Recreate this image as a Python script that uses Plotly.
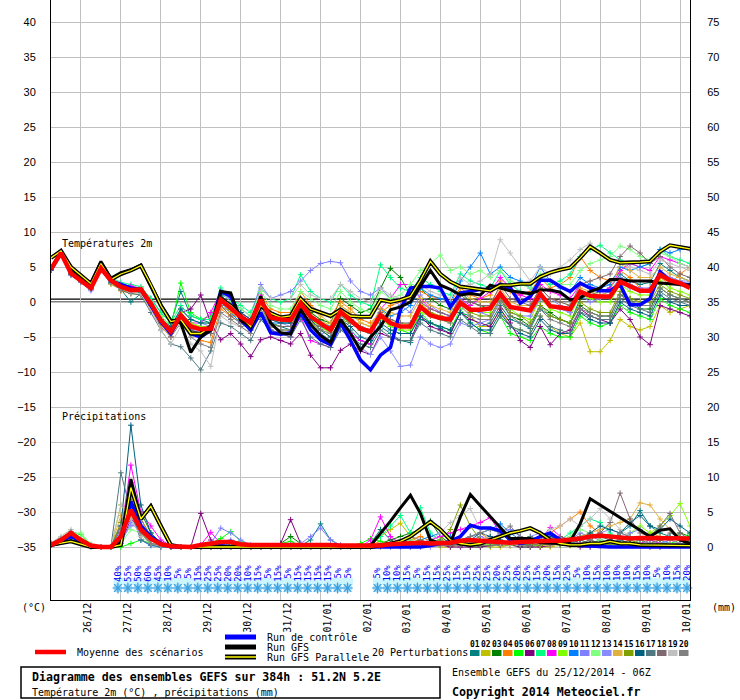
import plotly.graph_objects as go

# ---- time grid (GEFS run 25/12/2014 06Z, every 6h up to 384h)
HOURS = list(range(0, 385, 6))
DAY_HOURS = list(range(18, 379, 24))
DAY_LABELS = ["26/12", "27/12", "28/12", "29/12", "30/12", "31/12", "01/01", "02/01",
              "03/01", "04/01", "05/01", "06/01", "07/01", "08/01", "09/01", "10/01"]

# ---- temperature 2m (C)
T_MEAN = [4.7, 7.0, 4.1, 3.1, 2.0, 4.8, 3.1, 2.2, 1.7, 1.8,
          -0.2, -2.6, -4.2, -1.9, -3.5, -3.9, -3.8, 0.3, -0.9, -2.1,
          -3.0, 0.3, -2.2, -2.5, -2.6, -0.2, -2.1, -3.0, -4.0, -1.4,
          -2.5, -3.8, -4.2, -1.9, -3.0, -3.5, -3.5, -0.7, -1.9, -2.3,
          -2.5, -0.1, -1.1, -1.1, -0.9, 1.2, -0.7, -1.0, -1.2, 1.2,
          -0.6, -0.8, -1.0, 1.5, 0.9, 0.8, 0.8, 2.9, 2.2, 1.6,
          1.6, 3.9, 3.1, 2.7, 2.0]
T_GFS = [4.8, 7.2, 4.7, 3.6, 2.7, 5.8, 3.4, 4.2, 4.6, 5.3,
         2.4, -0.4, -2.6, -3.0, -7.2, -5.0, -4.0, 1.5, 1.3, -2.6,
         -3.5, 0.8, -3.0, -4.4, -4.6, -1.0, -3.2, -4.8, -5.8, -2.5,
         -4.5, -6.9, -5.0, -3.5, -1.1, -0.7, 0.0, 2.2, 4.5, 2.4,
         1.8, 1.0, 1.2, 1.0, 2.4, 2.0, 1.6, 1.4, 1.2, 1.7,
         1.7, 1.4, 0.3, 0.6, 1.5, 2.0, 3.2, 3.2, 3.0, 3.0,
         3.0, 2.7, 2.6, 2.6, 2.4]
T_PARA = [6.3, 7.3, 5.0, 3.8, 2.6, 5.5, 3.2, 4.0, 4.5, 5.2,
          2.5, -0.5, -2.8, -2.5, -4.5, -4.5, -3.5, 0.5, -0.5, -2.0,
          -3.5, -0.5, -1.6, -2.2, -2.0, 0.5, -1.0, -1.5, -2.0, -1.1,
          -2.0, -2.1, -2.1, 0.3, 0.0, 0.3, 0.8, 3.1, 5.8, 4.0,
          2.9, 2.2, 2.0, 1.8, 1.6, 2.4, 2.4, 2.6, 2.6, 3.6,
          4.2, 4.6, 4.9, 6.3, 7.9, 7.0, 6.0, 5.6, 5.6, 5.7,
          5.8, 7.2, 8.1, 7.8, 7.6]
T_CTRL = [4.6, 7.0, 4.5, 3.3, 2.2, 5.0, 3.0, 2.5, 2.0, 1.8,
          -0.5, -2.8, -4.5, -2.0, -4.5, -5.0, -4.0, 1.5, 0.8, -2.5,
          -4.0, -1.5, -4.4, -4.6, -4.4, -1.5, -4.0, -5.4, -6.1, -3.0,
          -5.5, -8.3, -9.7, -7.6, -6.5, -1.1, 2.0, 2.2, 2.2, 2.0,
          -0.7, 1.3, 1.5, 1.8, 1.8, 2.5, 2.0, -0.2, 0.8, 3.1,
          3.1, 2.2, 1.5, 2.7, 2.0, 1.6, 1.6, 2.5, -0.4, -0.4,
          0.5, 4.3, 3.0, 2.5, 2.5]

T01 = [4.6, 6.8, 4.0, 3.0, 1.8, 4.6, 2.6, 1.8, 0.0, 1.2,
       0.5, -1.5, -3.0, 1.5, -2.0, -2.5, -3.0, 1.0, -0.5, -1.5,
       -2.5, 1.5, -3.0, -3.5, -4.0, -1.5, -3.5, -4.5, -5.5, -2.8,
       -4.0, -5.5, -6.0, -3.5, -4.5, -5.5, -5.8, -2.5, -3.0, -3.8,
       -4.5, -1.5, -2.0, -3.5, -3.0, -0.5, -2.5, -3.0, -3.8, -1.0,
       -2.0, -2.5, -3.0, 0.5, 1.0, 1.5, 2.0, 4.0, 3.0, 2.5,
       2.8, 5.5, 4.5, 3.5, 3.0]
T02 = [4.8, 7.0, 4.2, 3.2, 2.2, 4.9, 3.2, 2.4, 2.0, 2.0,
       0.0, -2.5, -4.0, -1.5, -3.2, -3.5, -3.5, 0.8, -0.5, -1.8,
       -2.8, 0.5, -1.5, -2.0, -2.2, 0.5, -1.5, -2.5, -3.5, -0.5,
       -1.5, -3.0, -3.5, -1.0, -2.5, -3.0, -3.2, 0.0, -1.5, -2.0,
       -2.5, 0.5, -2.0, -3.5, -3.5, -1.0, -3.5, -4.0, -4.5, -2.0,
       -3.5, -4.5, -5.0, -3.0, -7.1, -7.1, -5.5, -2.5, -3.5, -4.0,
       -3.5, -0.5, -1.5, -1.0, -0.5]
T03 = [4.7, 7.0, 4.0, 3.0, 1.9, 4.7, 3.0, 2.0, 1.5, 1.5,
       -0.5, -3.0, -4.5, -2.5, -4.0, -4.5, -4.5, -0.5, -1.5, -2.5,
       -3.5, 0.5, -2.0, -2.0, -2.5, 0.0, -1.5, -2.5, -3.0, 0.5,
       -0.5, -1.5, -1.0, 2.0, 4.8, 3.5, 1.0, 2.0, 0.5, -0.5,
       -1.0, 1.5, 0.0, -0.5, -1.0, 0.5, -2.0, -2.5, -3.5, -0.5,
       -1.5, -2.5, -3.0, -0.5, -1.5, -2.0, -2.0, 1.0, 0.5, -1.0,
       -1.0, 2.0, 1.0, 0.5, 0.0]
T04 = [4.7, 7.0, 4.3, 3.3, 2.2, 4.8, 3.0, 1.6, 1.2, 1.5,
       -0.5, -2.8, -4.5, -2.5, -4.0, -5.5, -5.8, -1.0, -2.0, -3.0,
       -3.5, 1.0, -1.0, -1.5, -1.5, 1.5, -0.5, -1.5, -2.0, 0.0,
       -1.0, -2.5, -3.0, -1.5, -0.5, 0.0, 0.5, 1.5, 0.8, 0.5,
       0.0, 2.0, 1.0, 0.5, 1.0, 3.0, 1.5, 1.0, 1.5, 3.5,
       2.0, 2.5, 3.5, 6.5, 4.5, 3.5, 3.0, 4.5, 3.5, 2.0,
       1.5, 3.5, 2.5, 4.0, 5.0]
T05 = [4.9, 7.1, 4.3, 3.2, 2.1, 5.0, 3.2, 2.3, 1.8, 1.5,
       -0.5, -2.0, -3.5, 2.7, -1.5, -2.5, -2.0, 1.0, -0.5, -2.0,
       -3.0, 0.5, -3.0, -3.5, -3.5, -0.5, -2.5, -3.5, -4.5, -2.0,
       -3.0, -4.0, -4.5, -2.0, -3.5, -4.0, -4.5, -1.5, -3.0, -3.5,
       -4.0, -1.0, -3.0, -4.0, -4.5, -2.0, -4.5, -5.0, -5.5, -3.5,
       -4.5, -5.0, -5.0, -2.0, -3.0, -3.5, -3.0, -0.5, -1.5, -2.0,
       -2.5, 0.5, -0.5, -1.0, -1.5]
T06 = [4.6, 6.9, 4.0, 3.0, 2.0, 4.7, 3.0, 2.0, 1.5, 1.5,
       -1.0, -3.5, -5.0, -1.5, -1.0, 1.0, -3.0, -5.4, -4.5, -6.0,
       -7.8, -5.4, -5.0, -5.5, -6.0, -4.5, -7.6, -9.4, -9.4, -6.9,
       -6.0, -7.0, -7.5, -4.5, -5.0, -5.5, -5.5, -2.0, -3.5, -4.0,
       -4.5, -1.5, -2.5, -3.0, -3.5, -1.0, -3.0, -5.5, -6.5, -3.5,
       -6.1, -4.5, -4.0, -1.0, -2.0, -2.5, -3.0, -1.0, -2.5, -5.0,
       -6.1, -0.5, -1.0, -1.5, -2.0]
T07 = [4.8, 7.1, 4.2, 3.3, 2.3, 5.1, 3.5, 2.8, 2.5, 2.2,
       0.5, -1.5, -3.0, -0.5, -2.0, -2.5, -2.5, 2.0, 0.5, -0.5,
       -1.5, 2.0, 0.5, 0.0, 0.5, 3.9, 1.5, 0.5, 0.0, 2.5,
       1.0, 0.0, -0.5, 5.3, 3.5, 2.0, 1.5, 3.5, 2.5, 1.5,
       1.0, 4.0, 3.0, 2.5, 2.0, 4.5, 2.5, 1.5, 1.0, 3.5,
       2.5, 3.0, 4.0, 6.5, 7.5, 8.1, 7.0, 6.0, 5.5, 5.0,
       5.5, 7.5, 6.5, 6.0, 5.5]
T08 = [4.7, 7.0, 4.0, 3.0, 2.0, 4.9, 3.2, 2.5, 2.3, 2.0,
       0.0, -2.5, -4.0, -2.0, -3.0, -3.0, -1.5, 1.5, 0.0, -1.5,
       -2.5, 1.0, -4.0, -4.5, -5.0, -2.0, -5.5, -6.0, -6.5, -3.0,
       -4.5, -5.5, -6.0, -1.0, 0.5, 2.5, 2.5, 0.5, -1.0, -1.5,
       -2.0, 0.5, -0.5, 0.5, 1.5, 3.5, 2.0, 1.0, 0.5, 2.5,
       1.5, 1.0, 0.5, 2.5, 2.0, 1.5, 2.0, 4.5, 5.5, 5.0,
       4.5, 6.5, 6.0, 5.5, 5.0]
T09 = [4.8, 7.0, 4.1, 3.1, 2.1, 4.8, 3.1, 2.2, 1.8, 1.6,
       -0.3, -2.5, -4.0, -1.5, -3.0, -3.5, -3.5, 0.5, -1.0, -2.0,
       -3.0, 0.0, -2.5, -3.0, -3.0, -0.5, -2.5, -3.5, -4.5, -2.0,
       -3.0, -4.0, -4.5, -2.5, -3.5, -4.0, -4.0, -1.5, -2.0, -2.5,
       -3.0, 0.0, -1.0, -1.5, -1.5, 1.0, -1.0, -2.0, -2.5, 0.5,
       -1.0, -1.5, -2.0, 1.0, 0.5, 0.0, 0.0, 2.5, 1.5, 1.0,
       1.0, 3.0, 2.0, 1.5, 1.0]
T10 = [4.6, 6.9, 4.2, 3.2, 2.2, 4.7, 3.0, 2.0, 1.5, 1.8,
       -0.5, -3.0, -4.5, -2.0, -4.0, -4.5, -4.0, 0.0, -1.5, -3.0,
       -4.0, -0.5, -3.0, -3.0, -3.0, -0.5, -2.5, -3.0, -3.5, -1.0,
       -2.5, -3.5, -4.0, -1.0, -2.0, -1.5, -0.5, 2.0, 1.0, 0.5,
       0.0, 3.0, 5.0, 7.0, 4.0, 5.0, 3.5, 3.0, 2.0, 5.0,
       3.0, 2.0, 1.5, 3.5, 2.5, 2.0, 2.5, 5.0, 4.5, 5.0,
       5.5, 7.5, 7.0, 7.5, 7.5]
T11 = [4.7, 6.9, 3.8, 2.8, 1.6, 4.5, 2.8, 1.9, 1.5, 1.5,
       -0.5, -2.5, -4.0, -1.0, -2.5, -3.0, -3.5, 1.0, 0.5, -1.0,
       -2.0, 2.5, 0.5, 1.0, 1.5, 3.0, 4.5, 5.5, 5.8, 5.6,
       3.0, 1.5, 1.0, 2.0, 0.5, -0.5, -1.5, 1.0, -0.5, -1.5,
       -2.0, 0.5, -1.0, -1.5, -2.0, 0.5, -1.5, -2.0, -2.0, 0.5,
       -0.5, -1.0, -1.5, 1.5, 1.0, 1.0, 1.5, 3.5, 2.5, 2.0,
       2.0, 4.5, 3.5, 3.0, 2.5]
T12 = [4.8, 7.1, 4.3, 3.4, 2.5, 5.2, 3.3, 2.4, 1.9, 2.0,
       0.0, -2.0, -3.5, -1.0, -2.5, -3.0, -3.0, 1.5, 0.0, -1.0,
       -2.0, 1.5, -0.5, -1.0, -1.0, 1.5, 0.5, -0.5, -1.0, 1.5,
       0.0, -1.0, -1.5, 1.5, 0.5, 1.0, 2.5, 4.5, 5.5, 6.7,
       4.5, 5.0, 4.0, 4.5, 3.5, 4.5, 3.0, 2.5, 2.0, 4.0,
       3.0, 2.5, 2.5, 4.5, 5.5, 6.0, 6.5, 8.0, 7.5, 6.5,
       6.0, 7.0, 6.5, 5.5, 5.0]
T13 = [4.6, 6.8, 3.9, 2.9, 1.8, 4.6, 2.9, 2.0, 1.6, 1.6,
       -0.5, -3.0, -4.5, -2.5, -4.0, -4.0, -4.0, 0.0, -1.0, -2.0,
       -3.0, 0.0, -2.5, -3.0, -3.5, -1.0, -3.5, -4.5, -5.5, -3.0,
       -5.0, -6.5, -7.5, -5.0, -7.0, -9.2, -9.0, -5.0, -6.0, -6.5,
       -6.0, -3.0, -3.5, -3.0, -2.5, 0.5, -1.0, -0.5, -0.5, 2.0,
       0.5, -0.5, -1.5, 1.0, 0.0, 0.5, 1.0, 3.0, 2.0, 1.5,
       1.5, 4.0, 3.5, 3.0, 3.0]
T14 = [4.8, 7.0, 4.5, 3.5, 2.3, 4.6, 2.5, 1.8, 1.3, 1.0,
       -1.0, -3.5, -5.0, -2.5, -4.5, -4.5, -4.5, -0.5, -1.5, -2.5,
       -3.5, 0.0, -1.5, -2.0, -2.0, 0.5, -1.0, -2.0, -3.0, -0.5,
       -1.5, -3.0, -3.5, -1.0, -1.5, -2.0, -2.0, 0.5, -0.5, -1.0,
       -1.5, 1.5, 0.5, 0.0, 0.0, 2.0, 0.0, -0.5, -0.5, 2.0,
       0.5, 0.0, -0.5, 2.0, 1.5, 1.0, 1.5, 5.5, 4.5, 3.5,
       3.5, 5.0, 4.0, 3.5, 3.0]
T15 = [4.7, 7.0, 4.2, 3.1, 2.0, 4.8, 3.2, 2.2, 1.7, 1.7,
       -0.3, -2.8, -4.5, -2.0, -3.5, -4.0, -4.0, 0.0, -1.0, -2.5,
       -3.5, -0.5, -3.5, -4.0, -4.0, -1.5, -3.0, -4.0, -5.0, -2.5,
       -3.0, -4.0, -4.5, -2.0, -3.0, -3.5, -3.5, -0.5, -1.5, -2.0,
       -2.5, 0.0, -1.5, -2.0, -2.0, 0.5, -1.5, -2.0, -3.0, -0.5,
       -2.0, -2.5, -3.0, 0.0, -1.0, -1.5, -1.5, 1.5, 0.5, 0.0,
       0.0, 2.5, 1.5, 1.0, 0.5]
T16 = [4.6, 6.9, 4.0, 3.0, 2.0, 4.6, 2.9, 2.0, 1.5, 1.4,
       -0.5, -2.5, -3.5, -1.0, -2.5, -3.0, -3.0, 1.0, -0.5, -1.5,
       -2.5, 0.5, -2.5, -3.0, -3.0, -0.5, -2.5, -4.0, -5.0, -2.5,
       -3.5, -5.0, -5.5, -3.0, -4.0, -4.5, -4.5, -2.0, -3.0, -3.5,
       -4.0, -1.5, -3.0, -4.0, -4.0, -1.5, -3.5, -4.5, -5.0, -2.5,
       -4.0, -4.5, -4.5, -1.5, -2.5, -3.0, -3.0, 0.0, -1.0, -1.5,
       -2.0, 1.0, 0.0, -0.5, -0.5]
T17 = [4.6, 6.9, 3.9, 2.9, 1.9, 4.5, 2.8, 1.7, 1.2, 1.0,
       -1.5, -4.0, -6.0, -6.4, -8.0, -9.7, -7.0, -3.0, -3.5, -4.5,
       -5.5, -2.5, -4.0, -4.5, -5.0, -2.5, -5.0, -6.0, -6.5, -4.0,
       -5.0, -6.0, -6.5, -4.0, -5.0, -5.5, -5.5, -3.0, -4.0, -4.5,
       -5.0, -2.5, -3.5, -4.5, -4.5, -2.0, -3.5, -4.0, -4.5, -2.0,
       -3.5, -4.0, -4.5, -1.5, -2.0, -2.5, -2.5, 0.5, -0.5, -1.0,
       -1.5, 1.5, 0.5, 0.0, -0.5]
T18 = [4.7, 7.0, 4.1, 3.1, 2.1, 4.9, 3.1, 2.1, 1.6, 1.5,
       -0.5, -3.0, -4.5, -2.0, -4.0, -4.5, -4.5, -0.5, -2.0, -3.0,
       -4.0, -0.5, -3.0, -3.5, -3.5, -1.0, -3.0, -3.5, -4.0, -1.5,
       -2.5, -3.5, -4.0, -1.5, -2.5, -3.0, -3.0, 0.0, -1.0, -1.5,
       -2.0, 1.0, 0.0, -0.5, -0.5, 2.5, 0.5, 0.0, -0.5, 2.0,
       0.5, 0.0, -0.5, 2.5, 3.0, 3.5, 4.0, 6.5, 8.0, 7.0,
       5.5, 6.5, 5.0, 4.0, 3.5]
T19 = [4.9, 7.2, 4.5, 3.4, 2.3, 5.0, 3.0, 2.0, 1.4, 1.2,
       -1.0, -4.0, -6.0, -3.5, -6.0, -7.0, -9.2, -2.0, -3.0, -3.5,
       -4.5, 2.0, 0.5, 0.5, 0.5, 2.5, 1.0, 0.5, 0.5, 2.5,
       1.5, 0.5, 0.0, 2.0, 1.0, 0.5, 0.5, 2.5, 1.5, 1.0,
       0.5, 3.5, 2.5, 3.0, 4.0, 8.9, 7.0, 5.0, 3.0, 5.0,
       4.0, 5.0, 6.0, 7.5, 8.4, 7.0, 6.0, 5.5, 5.0, 4.5,
       4.0, 6.0, 5.5, 5.0, 4.5]
T20 = [4.7, 7.0, 4.0, 3.0, 1.9, 4.7, 3.0, 2.1, 1.6, 1.6,
       -0.5, -3.0, -5.0, -3.0, -5.0, -6.0, -6.5, -1.5, -2.5, -3.5,
       -4.5, -1.0, -3.5, -4.0, -4.0, -1.5, -3.5, -4.0, -4.5, -2.0,
       -3.0, -4.0, -4.5, -2.0, -3.0, -3.5, -3.5, -1.0, -2.0, -2.5,
       -3.0, -0.5, -2.0, -2.5, -2.5, 0.0, -2.0, -3.0, -3.5, -1.0,
       -2.5, -3.0, -3.5, -1.0, -1.5, -2.0, -2.0, 1.0, 0.0, -0.5,
       -0.5, 2.0, 1.0, 0.5, 0.0]

# ---- precipitation (mm / 6h)
P_MEAN = [0.3, 1.0, 2.0, 1.0, 0.2, 0.0, 0.0, 1.5, 5.3, 2.5,
          1.2, 0.4, 0.1, 0.0, 0.0, 0.3, 0.5, 0.7, 0.7, 0.4,
          0.3, 0.3, 0.3, 0.3, 0.4, 0.4, 0.4, 0.3, 0.3, 0.2,
          0.2, 0.1, 0.1, 0.2, 0.4, 0.5, 0.6, 0.6, 0.5, 0.5,
          0.6, 0.9, 1.0, 0.9, 0.8, 0.7, 0.6, 0.7, 0.8, 0.8,
          0.9, 0.9, 1.0, 1.2, 1.5, 1.6, 1.5, 1.3, 1.2, 1.3,
          1.3, 1.2, 1.3, 1.2, 1.2]
P_GFS = [0.2, 0.5, 0.9, 0.5, 0.0, 0.0, 0.0, 0.5, 9.7, 4.0,
         5.9, 3.0, 0.2, 0, 0, 0, 0, 0, 0, 0,
         0, 0, 0, 0, 0, 0, 0, 0, 0, 0,
         0.0, 0.0, 0.2, 1.9, 3.7, 5.6, 7.4, 4.8, 1.0, 0.5,
         0.5, 4.3, 7.5, 5.9, 4.3, 2.8, 1.2, 1.2, 1.2, 0.6,
         0.5, 0.5, 0.8, 3.3, 6.9, 6.0, 5.1, 4.2, 3.3, 2.4,
         1.5, 2.4, 2.6, 1.0, 0.5]
P_PARA = [0.3, 0.6, 0.8, 0.4, 0.0, 0.0, 0.0, 0.3, 8.5, 4.0,
          5.8, 3.0, 0.3, 0, 0, 0, 0, 0, 0, 0,
          0, 0, 0, 0, 0, 0, 0, 0, 0, 0,
          0, 0, 0, 0.2, 0.5, 0.8, 1.5, 2.5, 3.6, 2.5,
          1.0, 0.5, 0.3, 0.5, 1.0, 1.5, 2.0, 2.3, 2.7, 2.0,
          1.0, 0.5, 0.3, 0.3, 0.5, 0.5, 0.8, 0.5, 0.5, 0.3,
          0.3, 0.2, 0.2, 0.2, 0.2]
P_CTRL = [0.3, 0.8, 1.5, 0.8, 0.1, 0, 0, 1.0, 6.5, 3.0,
          1.5, 0.5, 0.0, 0, 0, 0, 0, 0.5, 0.8, 0.3,
          0, 0, 0, 0, 0, 0, 0, 0, 0, 0,
          0, 0, 0, 0, 0, 0, 0, 0, 0.2, 0.5,
          0.8, 1.5, 3.1, 2.7, 2.7, 2.3, 1.0, 0.5, 0.8, 1.5,
          2.0, 1.0, 0.3, 0.2, 0.1, 0, 0, 0, 0, 0,
          0, 0, 0, 0, 0]

P01 = [0.4, 1.0, 1.8, 0.8, 0.1, 0, 0, 2.0, 7.0, 4.0, 1.5, 0.5, 0.1,
       0, 0, 0, 0, 0.3, 0.5, 0.2, 0, 0, 0, 0, 0.5, 0.2,
       1.0, 3.3, 1.0, 0.2, 0, 0, 0.5, 2.5, 1.0, 0.3, 0, 0.5, 1.0,
       0.5, 0.3, 0.5, 1.0, 0.5, 0.3, 0.5, 1.0, 1.5, 0.8, 0.5, 0.3, 0.5,
       1.0, 1.5, 2.0, 1.5, 1.0, 2.0, 3.0, 5.2, 3.0, 2.0, 1.5, 1.0, 0.8]
P02 = [0.5, 1.2, 1.6, 0.6, 0.1, 0, 0, 6.0, 5.0, 2.5, 1.0, 0.3, 0,
       0, 0, 0, 0, 0, 0.2, 0, 0, 0, 0, 0, 0, 0,
       0, 0, 0, 0, 0, 0, 0.2, 1.5, 2.5, 3.4, 1.5, 0.5, 0.2,
       0, 0, 0.2, 0.5, 0.3, 0, 0, 0.2, 0.5, 0.3, 0, 0, 0.2,
       0.5, 0.3, 0.2, 0.5, 1.0, 0.5, 0.3, 0.5, 1.0, 0.5, 0.3, 0.2, 0.2]
P03 = [0.4, 0.9, 1.5, 0.7, 0.1, 0, 0, 1.0, 6.0, 5.0, 2.0, 0.5, 0,
       0, 0, 0, 0, 0.3, 0.8, 0.3, 0, 0, 0, 0.5, 1.5, 0.5,
       0, 0, 0, 0, 0, 0, 0, 0.5, 1.0, 1.5, 2.0, 2.5, 3.7,
       1.5, 0.5, 0.3, 0.5, 1.0, 0.5, 0.3, 0.5, 0.8, 1.0, 0.5, 0.3, 0.5,
       1.0, 1.5, 1.0, 0.5, 0.5, 1.0, 1.5, 1.0, 0.5, 0.5, 1.0, 2.0, 1.5]
P04 = [0.4, 1.1, 1.9, 0.9, 0.2, 0, 0, 1.5, 9.2, 4.0, 1.5, 0.5, 0.1,
       0, 0, 0, 0, 0.2, 0.3, 0.1, 0, 0, 0, 0, 0, 0,
       0, 0, 0, 0, 0, 0, 0.3, 0.8, 0.5, 0.3, 1.0, 1.5, 0.8,
       0.5, 0.5, 1.0, 1.5, 2.0, 1.0, 0.5, 0.3, 0.5, 1.0, 1.5, 2.0, 3.0,
       4.0, 5.0, 3.0, 2.0, 1.5, 1.0, 0.5, 1.0, 2.0, 1.5, 1.0, 0.5, 0.5]
P05 = [0.5, 1.3, 2.2, 1.8, 0.3, 0, 0, 0.0, 0.5, 1.0, 0.5, 0.2, 0,
       0, 0, 0, 0.5, 1.2, 2.2, 0.8, 0.2, 0, 0, 0.5, 0.8, 0.2,
       0, 0, 0, 0, 0, 0.5, 1.2, 0.8, 0.3, 0, 0, 0.2, 0.5,
       1.0, 0.5, 0.3, 0, 0, 0.2, 0.5, 0.3, 0, 0, 0.3, 0.8, 1.0,
       0.5, 0.3, 0.5, 1.0, 0.5, 0.3, 0.5, 1.0, 1.5, 1.0, 0.5, 1.0, 2.0]
P06 = [0.3, 0.8, 1.5, 0.7, 0.1, 0, 0, 0.5, 4.0, 2.5, 1.5, 0.5, 0,
       0, 0, 4.8, 1.0, 0.2, 0, 0, 0, 0, 0, 0.5, 3.9, 0.5,
       0, 0, 0, 0, 0, 0, 0, 0, 0, 0, 0, 0.3, 0.5,
       0.3, 0, 0, 0, 0, 0.2, 0.5, 0.3, 0, 0, 0, 0.2, 0.5,
       0.3, 0, 0, 0.2, 0.5, 1.0, 0.5, 0.3, 0, 0, 0.2, 0.5, 0.3]
P07 = [0.4, 1.0, 1.7, 0.8, 0.1, 0, 0, 1.0, 5.0, 3.0, 1.0, 0.3, 0,
       0, 0, 0, 0, 0, 0.5, 0.3, 0, 0, 0, 0, 0, 0,
       0, 0, 0, 0, 0, 0, 0.3, 1.5, 3.0, 4.5, 2.0, 5.6, 2.0,
       0.8, 0.5, 0.3, 0.5, 1.0, 0.5, 0.3, 0.5, 1.0, 0.5, 0.3, 0.5, 1.0,
       2.0, 3.0, 4.0, 3.5, 2.0, 1.0, 0.5, 0.5, 1.0, 0.5, 0.3, 0.5, 0.5]
P08 = [0.4, 1.0, 1.8, 0.8, 0.1, 0, 0, 2.0, 11.7, 5.0, 3.0, 1.0, 0.2,
       0, 0, 0.3, 2.1, 0.5, 0.2, 0, 0, 0, 0, 0, 0, 0,
       0, 0, 0, 0, 0, 0, 1.0, 4.3, 1.5, 0.5, 0.3, 0.5, 1.0,
       1.5, 2.0, 2.5, 3.0, 3.5, 4.2, 2.0, 1.0, 0.5, 0.5, 1.0, 2.8, 1.5,
       1.0, 0.5, 0.3, 0.5, 1.0, 0.5, 0.3, 0.5, 1.0, 0.5, 0.3, 0.2, 0.2]
P09 = [0.4, 1.0, 1.7, 0.9, 0.2, 0, 0, 1.5, 4.5, 2.0, 0.5, 0.2, 0,
       0, 0, 0, 0, 0, 0, 0, 0, 0, 0, 0, 0, 0,
       0, 0, 0, 0, 0, 0, 0, 0.2, 0.5, 1.0, 0.5, 0.3, 0.5,
       0.5, 0.3, 0.5, 1.0, 0.5, 0.3, 0.5, 0.8, 0.5, 0.3, 0.5, 0.5, 0.3,
       0.5, 1.0, 0.5, 0.3, 0.5, 1.0, 2.0, 3.0, 2.0, 3.0, 4.5, 6.2, 3.0]
P10 = [0.4, 0.9, 1.6, 0.8, 0.1, 0, 0, 3.0, 5.5, 1.0, 0.2, 0, 0,
       0, 0, 0, 0, 0.2, 0.5, 0.2, 0, 0, 0, 0, 0, 0,
       0, 0, 0, 0, 0, 0, 0, 0.2, 0.5, 0.3, 0.5, 1.0, 1.5,
       2.0, 1.5, 1.0, 1.5, 2.0, 2.5, 3.3, 2.0, 1.0, 0.5, 0.3, 0.5, 1.0,
       0.5, 0.3, 0.2, 0.5, 0.3, 0.2, 0.5, 1.0, 0.5, 0.3, 0.2, 0.3, 0.5]
P11 = [0.4, 1.0, 1.6, 0.7, 0.1, 0, 0, 1.0, 3.0, 3.5, 1.5, 0.5, 0.1,
       0, 0, 0, 0.5, 2.7, 2.0, 1.0, 0.3, 0, 0, 0, 0.3, 0.5,
       1.5, 2.7, 1.0, 0.3, 0, 0, 0, 0, 0, 0, 0, 0, 0.3,
       0.5, 0.3, 0.5, 1.0, 1.5, 1.0, 2.0, 2.5, 1.5, 1.0, 0.5, 0.3, 0.5,
       1.0, 2.0, 1.5, 1.0, 0.5, 1.0, 2.0, 2.5, 1.5, 1.0, 0.5, 0.3, 0.3]
P12 = [0.5, 1.2, 1.8, 2.0, 0.4, 0, 0, 0.5, 2.5, 2.0, 1.0, 0.3, 0,
       0, 0, 0, 0, 0, 0, 0, 0, 0, 0, 0, 0, 0,
       0, 0, 0, 0, 0, 0, 0, 0, 0.3, 0.5, 1.0, 0.5, 0.3,
       0.2, 0.5, 1.0, 0.5, 0.3, 0.2, 0.3, 0.5, 0.3, 0.2, 0.3, 0.5, 1.0,
       1.5, 2.5, 2.0, 1.0, 0.5, 0.3, 0.5, 1.0, 0.5, 0.3, 0.5, 0.3, 0.2]
P13 = [0.4, 1.0, 1.6, 0.7, 0.1, 0, 0, 0.5, 3.5, 2.0, 0.5, 0.2, 0,
       0, 0, 0, 0, 0.5, 1.0, 0.5, 0, 0, 0, 0, 0, 0,
       0, 0, 0, 0, 0, 0, 0, 0, 0, 0, 0, 0, 0,
       0.2, 0.5, 0.3, 0.5, 1.0, 1.5, 1.0, 0.5, 1.0, 1.5, 2.0, 1.5, 1.0,
       0.5, 1.0, 1.5, 2.0, 2.5, 2.0, 1.5, 1.0, 0.5, 0.5, 1.0, 0.5, 0.3]
P14 = [0.4, 1.0, 1.7, 0.8, 0.1, 0, 0, 4.5, 7.5, 2.5, 0.5, 0.2, 0,
       0, 0, 0, 0, 0, 0, 0, 0, 0, 0, 0, 0, 0,
       0, 0, 0, 0, 0, 0, 0, 0, 0.3, 0.5, 0.3, 0.2, 0.5,
       1.0, 0.5, 0.3, 0.5, 1.0, 1.5, 1.0, 0.5, 0.3, 0.5, 0.3, 0.2, 0.5,
       1.0, 1.5, 2.0, 2.5, 3.0, 3.5, 4.0, 6.3, 6.0, 4.0, 2.5, 1.5, 1.0]
P15 = [0.4, 1.0, 1.8, 0.8, 0.1, 0, 0, 3.5, 6.5, 2.0, 0.5, 0.2, 0,
       0, 0, 0, 0, 0, 0, 0, 0, 0, 0, 0, 0, 0,
       0, 0, 0, 0, 0, 0, 0, 0.2, 0.5, 1.0, 0.5, 1.0, 0.5,
       1.0, 2.5, 6.0, 3.0, 1.0, 0.5, 0.3, 0.2, 0.5, 0.3, 0.2, 0.5, 0.3,
       0.2, 0.5, 1.0, 0.5, 0.3, 0.5, 1.0, 0.5, 0.3, 0.5, 0.5, 0.3, 0.2]
P16 = [0.3, 0.8, 1.5, 0.7, 0.1, 0, 0, 3.0, 17.4, 6.0, 2.0, 0.5, 0.1,
       0, 0, 0, 0, 0, 0.3, 0.2, 0, 0, 0, 0, 0, 0,
       0, 0, 0, 0, 0, 0, 0, 0.3, 0.5, 0.3, 0.2, 0.5, 1.0,
       0.5, 0.3, 0.5, 1.0, 2.0, 1.5, 1.0, 0.5, 0.3, 0.5, 1.0, 1.5, 1.0,
       0.5, 1.0, 2.0, 3.0, 2.5, 2.0, 3.5, 4.5, 3.0, 2.5, 4.0, 3.0, 2.0]
P17 = [0.4, 1.0, 1.9, 0.9, 0.2, 0, 0, 10.6, 5.0, 1.0, 0.3, 0, 0,
       0, 0, 0, 0, 0, 0, 0, 0, 0, 0, 0, 0, 0,
       0, 0, 0, 0, 0, 0, 0, 0.3, 0.5, 1.0, 0.5, 0.3, 0.5,
       0.8, 0.5, 0.3, 0.5, 1.0, 0.5, 0.3, 0.5, 1.0, 1.5, 1.0, 0.5, 0.3,
       0.5, 1.0, 0.5, 0.3, 0.5, 1.0, 0.5, 0.3, 0.5, 1.0, 1.5, 1.0, 0.5]
P18 = [0.4, 1.0, 1.8, 0.8, 0.1, 0, 0, 2.5, 8.5, 3.0, 1.0, 0.3, 0,
       0, 0, 0, 0, 0, 0, 0, 0, 0, 0, 0, 0, 0,
       0, 0, 0, 0, 0, 0, 0, 0.2, 0.5, 0.3, 0.2, 0.3, 0.5,
       0.3, 0.2, 0.3, 0.5, 0.3, 0.2, 0.3, 0.5, 0.3, 0.2, 0.5, 1.0, 1.5,
       1.0, 0.5, 1.0, 2.0, 3.5, 7.7, 4.0, 2.0, 1.5, 3.0, 4.8, 2.0, 1.0]
P19 = [0.6, 1.5, 2.5, 1.2, 0.3, 0, 0, 6.0, 4.0, 1.5, 0.5, 0.2, 0,
       0, 0, 0, 0, 0, 0, 0, 0, 0, 0, 0, 0, 0,
       0, 0, 0, 0, 0, 0, 0, 0.3, 0.5, 0.5, 0.3, 0.5, 1.0,
       2.0, 3.5, 4.5, 5.5, 2.5, 1.0, 0.5, 0.3, 0.5, 1.0, 1.5, 2.5, 3.0,
       4.0, 3.0, 4.0, 5.5, 4.0, 2.5, 1.5, 1.0, 0.5, 0.3, 0.5, 0.3, 0.2]
P20 = [0.5, 1.2, 2.2, 1.0, 0.2, 0, 0, 3.0, 6.0, 2.0, 0.5, 0.2, 0,
       0, 0, 0, 0, 0, 0, 0, 0, 0, 0, 0, 0, 0,
       0, 0, 0, 0, 0, 0, 0, 0.2, 0.5, 1.0, 1.5, 1.0, 0.5,
       0.3, 0.5, 1.0, 1.5, 2.0, 2.5, 2.0, 3.0, 1.5, 1.0, 0.5, 0.3, 0.5,
       1.0, 1.5, 1.0, 0.5, 1.0, 2.0, 1.5, 1.0, 0.5, 1.0, 2.0, 1.5, 1.0]

PERT_T = [T01, T02, T03, T04, T05, T06, T07, T08, T09, T10,
          T11, T12, T13, T14, T15, T16, T17, T18, T19, T20]
PERT_P = [P01, P02, P03, P04, P05, P06, P07, P08, P09, P10,
          P11, P12, P13, P14, P15, P16, P17, P18, P19, P20]
PERT_COLORS = ["#008080", "#c0c000", "#008000", "#ff8000", "#00ff00",
               "#800080", "#00ff80", "#ff00ff", "#80ff00", "#0080ff",
               "#8080ff", "#80ff80", "#8a8aff", "#e0b040", "#80a000",
               "#006080", "#507880", "#806870", "#c0c0c0", "#808080"]

# ---- snow probability (%)
SNOW_HOURS_A = list(range(42, 181, 6))
SNOW_PCT_A = [40, 55, 50, 60, 45, 10, 5, 5, 15, 25, 25, 20,
              20, 10, 15, 5, 15, 5, 15, 15, 15, 15, 5, 5]
SNOW_HOURS_B = list(range(198, 385, 6))
SNOW_PCT_B = [5, 10, 10, 15, 5, 15, 15, 25, 15, 15, 25, 25, 20, 25, 20, 25,
              15, 20, 15, 25, 5, 10, 15, 10, 10, 10, 15, 10, 5, 10, 15, 20]

for s in [T_MEAN, T_GFS, T_PARA, T_CTRL, P_MEAN, P_GFS, P_PARA, P_CTRL] + PERT_T + PERT_P:
    assert len(s) == len(HOURS), len(s)

# ---- geometry (pixels of the 740x700 picture)
W, H = 740, 700
ML, MR, MT, MB = 51, 50, 0, 100
PW, PH = W - ML - MR, H - MT - MB
Y0_PX = 302          # pixel row of 0 C
PX_PER_DEG = 7
T_LO = -(PH - Y0_PX) / PX_PER_DEG
T_HI = Y0_PX / PX_PER_DEG
MONO = "DejaVu Sans Mono"


def xp(px):
    return (px - ML) / PW


def yp(py):
    return (MT + PH - py) / PH


def ydata(py):
    return (Y0_PX - py) / PX_PER_DEG


fig = go.Figure()

# perturbations
for c, t, p in zip(PERT_COLORS, PERT_T, PERT_P):
    mk = dict(symbol="cross-thin", size=4, color=c, line=dict(color=c, width=1))
    fig.add_trace(go.Scatter(x=HOURS, y=t, mode="lines+markers", line=dict(color=c, width=1),
                             marker=mk, yaxis="y", hoverinfo="skip"))
    fig.add_trace(go.Scatter(x=HOURS, y=p, mode="lines+markers", line=dict(color=c, width=1),
                             marker=mk, yaxis="y2", hoverinfo="skip"))

# control, GFS, parallel, mean
for t, p, col, w in [(T_CTRL, P_CTRL, "#0000ff", 3.5), (T_GFS, P_GFS, "#000000", 3)]:
    for vals, ax in [(t, "y"), (p, "y2")]:
        fig.add_trace(go.Scatter(x=HOURS, y=vals, mode="lines", line=dict(color=col, width=w),
                                 yaxis=ax, hoverinfo="skip"))
for vals, ax in [(T_PARA, "y"), (P_PARA, "y2")]:
    fig.add_trace(go.Scatter(x=HOURS, y=vals, mode="lines", line=dict(color="black", width=4),
                             yaxis=ax, hoverinfo="skip"))
    fig.add_trace(go.Scatter(x=HOURS, y=vals, mode="lines", line=dict(color="#ffff00", width=1.3),
                             yaxis=ax, hoverinfo="skip"))
for vals, ax in [(T_MEAN, "y"), (P_MEAN, "y2")]:
    fig.add_trace(go.Scatter(x=HOURS, y=vals, mode="lines", line=dict(color="#ff0000", width=4.5),
                             yaxis=ax, hoverinfo="skip"))

# snow row: flakes
snow_y = ydata(588)
for hrs in (SNOW_HOURS_A, SNOW_HOURS_B):
    xs = [h - 1.8 for h in hrs]
    fig.add_trace(go.Scatter(x=xs, y=[snow_y] * len(xs), mode="markers", yaxis="y", cliponaxis=False,
                             marker=dict(symbol="circle", size=9, color="#a8dcf5", line=dict(width=0)),
                             hoverinfo="skip"))
    fig.add_trace(go.Scatter(x=xs, y=[snow_y] * len(xs), mode="markers", yaxis="y", cliponaxis=False,
                             marker=dict(symbol="asterisk-open", size=9, color="#3aa0e0",
                                         line=dict(color="#3aa0e0", width=1.2)),
                             hoverinfo="skip"))

shapes = []
# double zero line
for yy in (0.0, 0.4):
    shapes.append(dict(type="line", xref="paper", yref="y", x0=0, x1=1, y0=yy, y1=yy,
                       line=dict(color="black", width=1.2), layer="between"))
# cyan strip under the snow percentages
for h0, h1 in [(SNOW_HOURS_A[0] - 4.5, SNOW_HOURS_A[-1] + 1.5), (SNOW_HOURS_B[0] - 4.5, SNOW_HOURS_B[-1] + 3)]:
    shapes.append(dict(type="rect", xref="x", yref="y", x0=h0, x1=h1, y0=ydata(585), y1=ydata(578),
                       fillcolor="#ccf6ff", line=dict(width=0), layer="between"))

annotations = []
for hrs, pcts in [(SNOW_HOURS_A, SNOW_PCT_A), (SNOW_HOURS_B, SNOW_PCT_B)]:
    for h, v in zip(hrs, pcts):
        annotations.append(dict(x=h, y=yp(573), xref="x", yref="paper", xshift=-3, text=f"{v}%",
                                textangle=-90, showarrow=False, xanchor="center", yanchor="middle",
                                font=dict(family=MONO, size=9, color="#0000ff")))

# day labels under the axis, rotated
for h, lab in zip(DAY_HOURS, DAY_LABELS):
    annotations.append(dict(x=h, y=yp(601), xref="x", yref="paper", xshift=6, text=lab,
                            textangle=-90, showarrow=False, xanchor="center", yanchor="top",
                            font=dict(family=MONO, size=10, color="black")))

annotations += [
    dict(x=xp(60), y=yp(243), text="Températures 2m"),
    dict(x=xp(60), y=yp(416), text="Précipitations"),
    dict(x=xp(20), y=yp(607), text="(°C)"),
    dict(x=xp(710), y=yp(607), text="(mm)"),
]

# legend
LEG = [("#0000ff", 637, "Run de contrôle"), ("#000000", 647, "Run GFS")]
shapes.append(dict(type="line", xref="paper", yref="paper", x0=xp(35), x1=xp(66), y0=yp(652), y1=yp(652),
                   line=dict(color="#ff0000", width=4.5)))
annotations.append(dict(x=xp(75), y=yp(652), text="Moyenne des scénarios"))
for col, yy, label in LEG:
    shapes.append(dict(type="line", xref="paper", yref="paper", x0=xp(225), x1=xp(256), y0=yp(yy), y1=yp(yy),
                       line=dict(color=col, width=5)))
    annotations.append(dict(x=xp(265), y=yp(yy), text=label))
shapes.append(dict(type="line", xref="paper", yref="paper", x0=xp(225), x1=xp(256), y0=yp(657), y1=yp(657),
                   line=dict(color="black", width=5)))
shapes.append(dict(type="line", xref="paper", yref="paper", x0=xp(225), x1=xp(256), y0=yp(657), y1=yp(657),
                   line=dict(color="#ffff00", width=1.5)))
annotations.append(dict(x=xp(265), y=yp(657), text="Run GFS Parallele"))
annotations.append(dict(x=xp(370), y=yp(652), text="20 Perturbations"))
for k, col in enumerate(PERT_COLORS):
    x0 = 470 + 11 * k
    shapes.append(dict(type="rect", xref="paper", yref="paper", x0=xp(x0), x1=xp(x0 + 9.5),
                       y0=yp(656), y1=yp(650), fillcolor=col, line=dict(width=0)))
    annotations.append(dict(x=xp(x0 + 4.75), y=yp(644), text=f"{k + 1:02d}", xanchor="center",
                            font=dict(family=MONO, size=8, color="black", weight="bold")))

# title box
shapes.append(dict(type="rect", xref="paper", yref="paper", x0=xp(21), x1=xp(440), y0=yp(698), y1=yp(667),
                   line=dict(color="black", width=1.5), fillcolor="white"))
annotations += [
    dict(x=xp(30), y=yp(677), text="Diagramme des ensembles GEFS sur 384h : 51.2N 5.2E",
         font=dict(family=MONO, size=11.6, color="black", weight="bold")),
    dict(x=xp(30), y=yp(692), text="Température 2m (°C) , précipitations (mm)"),
    dict(x=xp(450), y=yp(672), text="Ensemble GEFS du 25/12/2014 - 06Z"),
    dict(x=xp(450), y=yp(692), text="Copyright 2014 Meteociel.fr",
         font=dict(family=MONO, size=11.6, color="black", weight="bold")),
]

for a in annotations:
    a.setdefault("xref", "paper")
    a.setdefault("yref", "paper")
    a.setdefault("showarrow", False)
    a.setdefault("xanchor", "left")
    a.setdefault("yanchor", "middle")
    a.setdefault("font", dict(family=MONO, size=10, color="black"))

tickfont = dict(family="Liberation Sans", size=11, color="black")
fig.update_layout(
    width=W, height=H, margin=dict(l=ML, r=MR, t=MT, b=MB),
    paper_bgcolor="white", plot_bgcolor="white", showlegend=False,
    xaxis=dict(range=[0, 384], tickvals=DAY_HOURS, showticklabels=False,
               showgrid=True, gridcolor="#c0c0c0", gridwidth=1, zeroline=False,
               showline=True, linecolor="black", linewidth=1, ticks=""),
    yaxis=dict(range=[T_LO, T_HI], tickvals=list(range(-35, 41, 5)), showgrid=True,
               gridcolor="#c0c0c0", gridwidth=1, zeroline=False, showline=True,
               linecolor="black", linewidth=1, ticks="", ticklabelstandoff=12, tickfont=tickfont),
    yaxis2=dict(range=[T_LO + 35, T_HI + 35], tickvals=list(range(0, 76, 5)), overlaying="y",
                side="right", showgrid=False, zeroline=False, showline=True, linecolor="black",
                linewidth=1, ticks="", ticklabelstandoff=14, tickfont=tickfont),
    shapes=shapes, annotations=annotations,
)

# the page must sit flush in the window, like the original picture
fig.write_html("out.html", config={"displayModeBar": False},
               post_script="document.body.style.margin='0';document.body.style.overflow='hidden';")
